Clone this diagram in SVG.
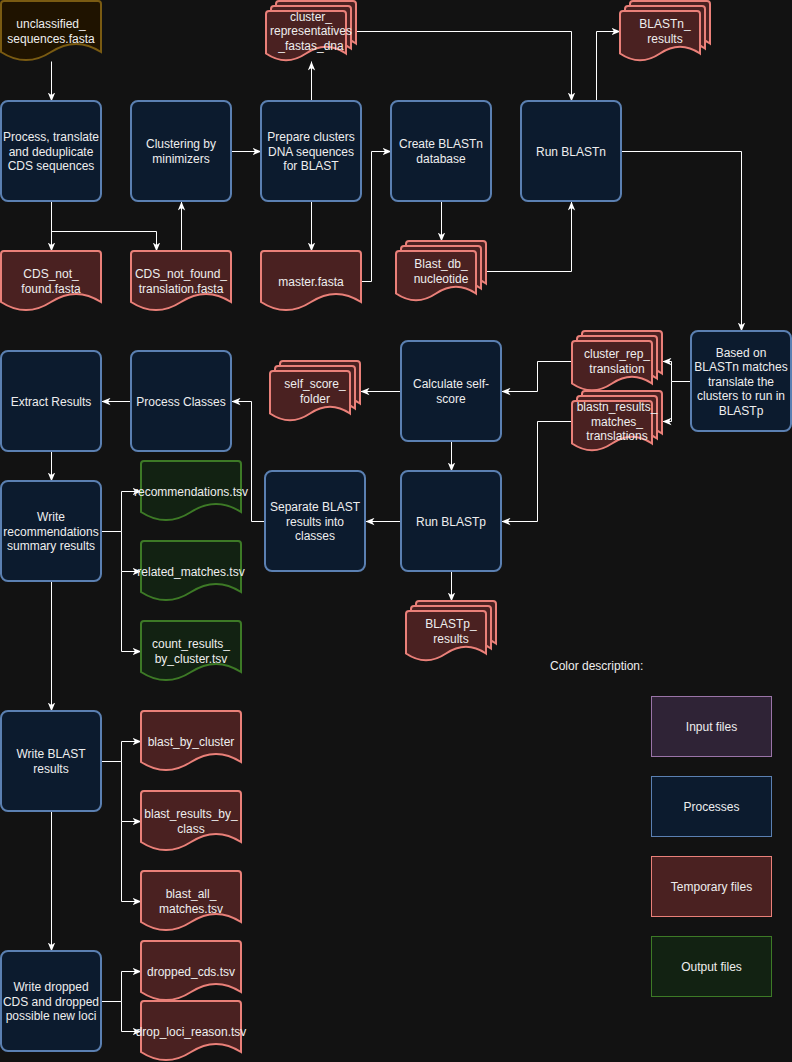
<svg xmlns="http://www.w3.org/2000/svg" xmlns:xlink="http://www.w3.org/1999/xlink" width="792" height="1062" viewBox="0 0 792 1062">
<style>
text{font-family:"Liberation Sans",Arial,sans-serif;font-size:12px;fill:#eeeeee;text-anchor:middle}
.proc{fill:#0c1b2e;stroke:#5b80b2;stroke-width:2}
.temp{fill:#4a2121;stroke:#ea8079;stroke-width:2}
.out{fill:#122212;stroke:#3d7a26;stroke-width:2}
.inp{fill:#1f1300;stroke:#7a5b12;stroke-width:2}
.lg{stroke-width:1}
.lin{fill:#2f2336;stroke:#9a74a8}
.lpr{fill:#0c1b2e;stroke:#5b80b2}
.ltm{fill:#4a2121;stroke:#ea8079}
.lou{fill:#122212;stroke:#3d7a26}
#connectors path{fill:none;stroke:#ffffff;stroke-width:1;marker-end:url(#arr)}
</style>
<defs>
<marker id="arr" markerUnits="userSpaceOnUse" markerWidth="9" markerHeight="8" viewBox="0 0 9 8" refX="9" refY="4" orient="auto">
<path d="M0,0.3 L9,4 L0,7.7 L2.5,4 Z" fill="#ffffff"/>
</marker>
<path id="doc" d="M0,3 Q0,0 3,0 H97 Q100,0 100,3 V51 Q75,34.8 50,51 Q25,67.2 0,51 Z"/>
<path id="sub" d="M0,3 Q0,0 3,0 H77 Q80,0 80,3 V42.5 Q60,29 40,42.5 Q20,56 0,42.5 Z"/>
<g id="multi">
<use xlink:href="#sub" x="10" y="0"/>
<use xlink:href="#sub" x="5" y="5"/>
<use xlink:href="#sub" x="0" y="10"/>
</g>
</defs>
<rect x="0" y="0" width="792" height="1062" fill="#121212"/>

<g id="connectors" transform="translate(0.5,0.5)">
<path d="M51,61 V101"/>
<path d="M51,201 V251"/>
<path d="M51,231 H156 V251"/>
<path d="M181,251 V201"/>
<path d="M231,151 H261"/>
<path d="M311,101 V61"/>
<path d="M311,201 V251"/>
<path d="M361,281 H371 V151 H391"/>
<path d="M441,201 V241"/>
<path d="M486,271 H571 V201"/>
<path d="M356,31 H571 V101"/>
<path d="M596,101 V31 H620"/>
<path d="M621,151 H741 V331"/>
<path d="M691,381 H671 V361 H662"/>
<path d="M671,381 V421 H662"/>
<path d="M572,361 H537 V391 H501"/>
<path d="M572,421 H537 V521 H501"/>
<path d="M401,391 H360"/>
<path d="M451,441 V471"/>
<path d="M401,521 H365"/>
<path d="M451,571 V601"/>
<path d="M265,521 H251 V401 H231"/>
<path d="M131,401 H101"/>
<path d="M51,451 V481"/>
<path d="M101,531 H121 V491 H141"/>
<path d="M121,531 V571 H141"/>
<path d="M121,571 V651 H141"/>
<path d="M51,581 V711"/>
<path d="M101,761 H121 V741 H141"/>
<path d="M121,761 V821 H141"/>
<path d="M121,821 V901 H141"/>
<path d="M51,811 V951"/>
<path d="M101,1001 H121 V971 H141"/>
<path d="M121,1001 V1031 H141"/>
</g>

<!-- Processes -->
<g id="p_process"><rect class="proc" x="1" y="101" width="100" height="100" rx="7"/><text x="51" y="141">Process, translate</text><text x="51" y="155.5">and deduplicate</text><text x="51" y="170">CDS sequences</text></g>
<g id="p_cluster"><rect class="proc" x="131" y="101" width="100" height="100" rx="7"/><text x="181" y="148">Clustering by</text><text x="181" y="162.5">minimizers</text></g>
<g id="p_prepare"><rect class="proc" x="261" y="101" width="100" height="100" rx="7"/><text x="311" y="141">Prepare clusters</text><text x="311" y="155.5">DNA sequences</text><text x="311" y="170">for BLAST</text></g>
<g id="p_createdb"><rect class="proc" x="391" y="101" width="100" height="100" rx="7"/><text x="441" y="148">Create BLASTn</text><text x="441" y="162.5">database</text></g>
<g id="p_blastn"><rect class="proc" x="521" y="101" width="100" height="100" rx="7"/><text x="571" y="155.5">Run BLASTn</text></g>
<g id="p_translate"><rect class="proc" x="691" y="331" width="100" height="100" rx="7"/><text x="741" y="356.5">Based on</text><text x="741" y="371">BLASTn matches</text><text x="741" y="385.5">translate the</text><text x="741" y="400">clusters to run in</text><text x="741" y="414.5">BLASTp</text></g>
<g id="p_selfscore"><rect class="proc" x="401" y="341" width="100" height="100" rx="7"/><text x="451" y="388">Calculate self-</text><text x="451" y="402.5">score</text></g>
<g id="p_blastp"><rect class="proc" x="401" y="471" width="100" height="100" rx="7"/><text x="451" y="525.5">Run BLASTp</text></g>
<g id="p_separate"><rect class="proc" x="265" y="471" width="100" height="100" rx="7"/><text x="315" y="511">Separate BLAST</text><text x="315" y="525.5">results into</text><text x="315" y="540">classes</text></g>
<g id="p_classes"><rect class="proc" x="131" y="351" width="100" height="100" rx="7"/><text x="181" y="405.5">Process Classes</text></g>
<g id="p_extract"><rect class="proc" x="1" y="351" width="100" height="100" rx="7"/><text x="51" y="405.5">Extract Results</text></g>
<g id="p_writerec"><rect class="proc" x="1" y="481" width="100" height="100" rx="7"/><text x="51" y="521">Write</text><text x="51" y="535.5">recommendations</text><text x="51" y="550">summary results</text></g>
<g id="p_writeblast"><rect class="proc" x="1" y="711" width="100" height="100" rx="7"/><text x="51" y="758">Write BLAST</text><text x="51" y="772.5">results</text></g>
<g id="p_writedrop"><rect class="proc" x="1" y="951" width="100" height="100" rx="7"/><text x="51" y="991">Write dropped</text><text x="51" y="1005.5">CDS and dropped</text><text x="51" y="1020">possible new loci</text></g>

<!-- Single documents -->
<g id="d_unclassified"><use xlink:href="#doc" class="inp" x="1" y="1"/><text x="51" y="28">unclassified_</text><text x="51" y="42.5">sequences.fasta</text></g>
<g id="d_cdsnf"><use xlink:href="#doc" class="temp" x="1" y="251"/><text x="51" y="278">CDS_not_</text><text x="51" y="292.5">found.fasta</text></g>
<g id="d_cdsnft"><use xlink:href="#doc" class="temp" x="131" y="251"/><text x="181" y="278">CDS_not_found_</text><text x="181" y="292.5">translation.fasta</text></g>
<g id="d_master"><use xlink:href="#doc" class="temp" x="261" y="251"/><text x="311" y="285.5">master.fasta</text></g>
<g id="o_recommendations"><use xlink:href="#doc" class="out" x="141" y="461"/><text x="191" y="495.5">recommendations.tsv</text></g>
<g id="o_related"><use xlink:href="#doc" class="out" x="141" y="541"/><text x="191" y="575.5">related_matches.tsv</text></g>
<g id="o_count"><use xlink:href="#doc" class="out" x="141" y="621"/><text x="191" y="648">count_results_</text><text x="191" y="662.5">by_cluster.tsv</text></g>
<g id="d_blastbycluster"><use xlink:href="#doc" class="temp" x="141" y="711"/><text x="191" y="745.5">blast_by_cluster</text></g>
<g id="d_blastbyclass"><use xlink:href="#doc" class="temp" x="141" y="791"/><text x="191" y="818">blast_results_by_</text><text x="191" y="832.5">class</text></g>
<g id="d_blastall"><use xlink:href="#doc" class="temp" x="141" y="871"/><text x="191" y="898">blast_all_</text><text x="191" y="912.5">matches.tsv</text></g>
<g id="d_droppedcds"><use xlink:href="#doc" class="temp" x="141" y="941"/><text x="191" y="975.5">dropped_cds.tsv</text></g>
<g id="d_droploci"><use xlink:href="#doc" class="temp" x="141" y="1001"/><text x="191" y="1035.5">drop_loci_reason.tsv</text></g>

<!-- Multi documents -->
<g id="m_clusterreps"><use xlink:href="#multi" class="temp" x="266" y="1"/><text x="311" y="20.5">cluster_</text><text x="311" y="35">representatives</text><text x="311" y="49.5">_fastas_dna</text></g>
<g id="m_blastnres"><use xlink:href="#multi" class="temp" x="620" y="1"/><text x="665" y="28">BLASTn_</text><text x="665" y="42.5">results</text></g>
<g id="m_blastdb"><use xlink:href="#multi" class="temp" x="396" y="241"/><text x="441" y="268">Blast_db_</text><text x="441" y="282.5">nucleotide</text></g>
<g id="m_clusterrep"><use xlink:href="#multi" class="temp" x="572" y="331"/><text x="617" y="358">cluster_rep_</text><text x="617" y="372.5">translation</text></g>
<g id="m_blastnmatch"><use xlink:href="#multi" class="temp" x="572" y="391"/><text x="617" y="411">blastn_results_</text><text x="617" y="425.5">matches_</text><text x="617" y="440">translations</text></g>
<g id="m_selfscore"><use xlink:href="#multi" class="temp" x="270" y="361"/><text x="315" y="388">self_score_</text><text x="315" y="402.5">folder</text></g>
<g id="m_blastpres"><use xlink:href="#multi" class="temp" x="406" y="601"/><text x="451" y="628">BLASTp_</text><text x="451" y="642.5">results</text></g>

<!-- Legend -->
<g id="legend">
<text x="550" y="670" style="text-anchor:start">Color description:</text>
<g id="lg_input"><rect class="lg lin" x="651.5" y="696.5" width="120" height="60"/><text x="711.5" y="730.5">Input files</text></g>
<g id="lg_proc"><rect class="lg lpr" x="651.5" y="776.5" width="120" height="60"/><text x="711.5" y="810.5">Processes</text></g>
<g id="lg_temp"><rect class="lg ltm" x="651.5" y="856.5" width="120" height="60"/><text x="711.5" y="890.5">Temporary files</text></g>
<g id="lg_out"><rect class="lg lou" x="651.5" y="936.5" width="120" height="60"/><text x="711.5" y="970.5">Output files</text></g>
</g>
</svg>
